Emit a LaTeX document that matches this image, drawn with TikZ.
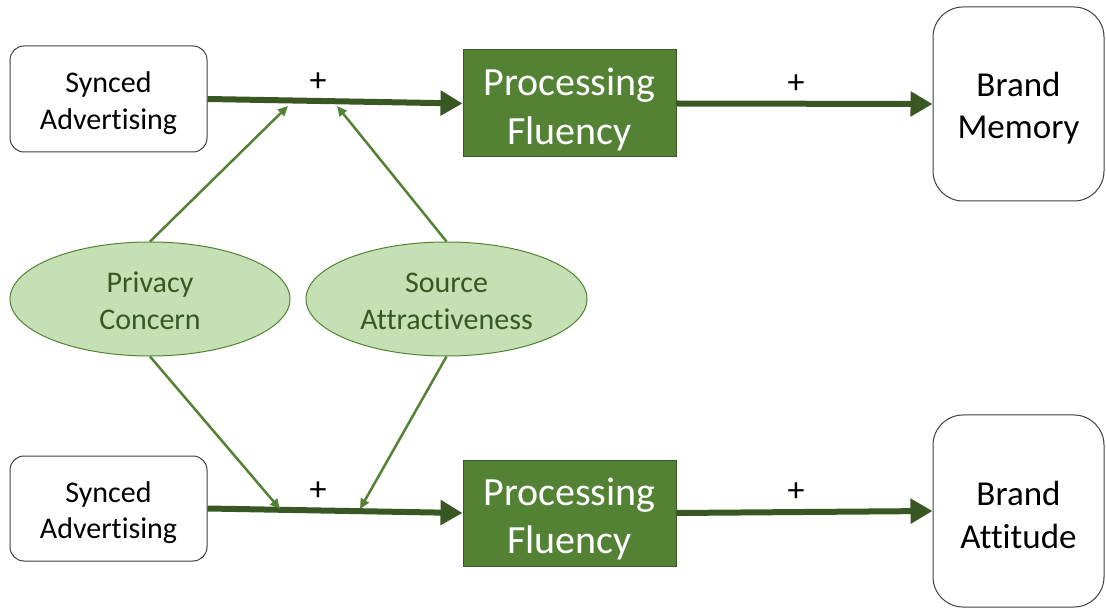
\documentclass[tikz,border=0pt]{standalone}
\usepackage{fontspec}
\setmainfont{Carlito}[Ligatures=NoCommon]
\usetikzlibrary{arrows.meta,shapes.geometric}
\definecolor{darkgreen}{HTML}{385723}
\definecolor{midgreen}{HTML}{548235}
\definecolor{lightgreen}{HTML}{C5E0B4}
\definecolor{boxline}{HTML}{404040}
% strut that lowers a two-line label a little inside its box
\newcommand{\toppad}[1]{\rule{0pt}{#1em}}
\tikzset{
  plainbox/.style={draw=boxline, line width=1pt, rounded corners=14pt, fill=white,
    inner sep=0pt, align=center, font=\fontsize{30}{36.6}\selectfont},
  brandbox/.style={draw=boxline, line width=1pt, rounded corners=30pt, fill=white,
    inner sep=0pt, align=center, font=\fontsize{35}{42.5}\selectfont},
  fluencybox/.style={draw=darkgreen, line width=1pt, fill=midgreen, text=white,
    inner sep=0pt, align=center, font=\fontsize{40}{48.5}\selectfont},
  moderator/.style={ellipse, draw=midgreen, line width=1pt, fill=lightgreen, text=darkgreen,
    inner sep=0pt, align=center, font=\fontsize{30}{36.6}\selectfont},
  mainpath/.style={draw=darkgreen, line width=6pt, -{Triangle[length=22pt,width=24pt]}},
  modpath/.style={draw=midgreen, line width=2.5pt, -{Triangle[length=10pt,width=9pt]}},
  sign/.style={inner sep=0pt, font=\fontsize{34}{36}\selectfont}
}
\begin{document}
\begin{tikzpicture}[x=1pt,y=-1pt]
\useasboundingbox (0,0) rectangle (1106,609);

% upper path
\node[plainbox, minimum width=197pt, minimum height=106pt] (sa1) at (108.5,99) {\toppad{0.96}Synced\\Advertising};
\node[fluencybox, minimum width=213pt, minimum height=107pt] (pf1) at (569.5,103.5) {\toppad{0.98}Processing\\Fluency};
\node[brandbox, minimum width=171pt, minimum height=194pt] (bm) at (1018.5,104) {\toppad{0.92}Brand\\Memory};

% lower path
\node[plainbox, minimum width=197pt, minimum height=105pt] (sa2) at (108.5,508.5) {\toppad{0.96}Synced\\Advertising};
\node[fluencybox, minimum width=213pt, minimum height=106pt] (pf2) at (569.5,513) {\toppad{0.98}Processing\\Fluency};
\node[brandbox, minimum width=171pt, minimum height=192pt] (ba) at (1018.5,511) {\toppad{0.92}Brand\\Attitude};

% moderators
\node[moderator, minimum width=280pt, minimum height=114pt] (pc) at (150,299) {\toppad{0.8}Privacy\\Concern};
\node[moderator, minimum width=281pt, minimum height=114pt] (sr) at (446.5,299) {\toppad{0.8}Source\\Attractiveness};

% main effects
\draw[mainpath] (sa1.east) -- (pf1.west);
\draw[mainpath] (pf1.east) -- (bm.west);
\draw[mainpath] (sa2.east) -- (pf2.west);
\draw[mainpath] (pf2.east) -- (ba.west);

\node[sign] (s1) at (318,82) {+};
\node[sign] (s2) at (796,84) {+};
\node[sign] (s3) at (318,491) {+};
\node[sign] (s4) at (796,492) {+};

% moderation targets on the main paths
\coordinate (m1) at (288,106);
\coordinate (m2) at (337,106);
\coordinate (m3) at (280,509);
\coordinate (m4) at (360,509);

\draw[modpath] (pc.north) -- (m1);
\draw[modpath] (sr.north) -- (m2);
\draw[modpath] (pc.south) -- (m3);
\draw[modpath] (sr.south) -- (m4);
\end{tikzpicture}
\end{document}
